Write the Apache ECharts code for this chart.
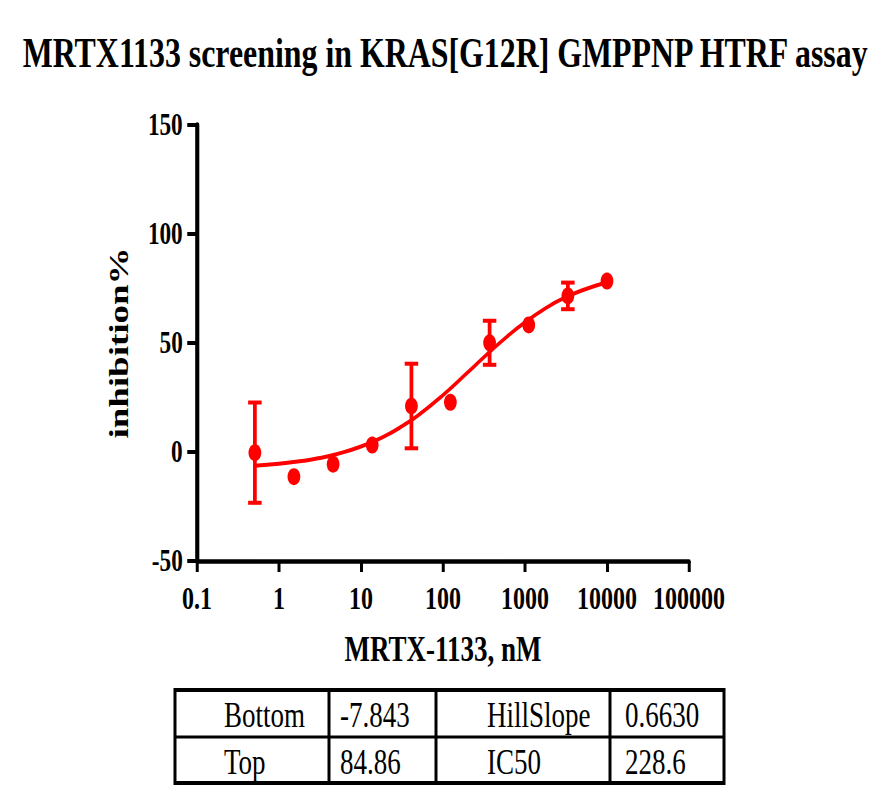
<!DOCTYPE html>
<html>
<head>
<meta charset="utf-8">
<title>MRTX1133 screening in KRAS[G12R] GMPPNP HTRF assay</title>
<script src="https://cdn.jsdelivr.net/npm/echarts@6/dist/echarts.min.js"></script>
<style>
  html, body { margin: 0; padding: 0; overflow: hidden; background: #fff; }
  #wrap { width: 890px; height: 808px; overflow: hidden; }
  /* the reference picture is squeezed sideways, so draw wide and squeeze it */
  #main { width: 1187px; height: 808px; transform: scaleX(0.75); transform-origin: 0 0; }
</style>
</head>
<body>
<div id="wrap"><div id="main"></div></div>
<script>
var SQUEEZE = 0.75;
var RED = '#ff0000';
var FONT = '"Liberation Serif", "Times New Roman", serif';

// measured points (3-fold dilution, nM)
var concNM = [0.508, 1.52, 4.57, 13.7, 41.2, 123, 370, 1111, 3333, 10000];
var inhMean = [-0.3, -11.3, -5.6, 3.2, 21.1, 22.8, 50.1, 58.3, 71.6, 78.4];
var inhErr = [23, 0, 0, 0, 19.4, 0, 10.1, 0, 6.1, 0];

// fitted curve
var fitX = [0.508, 1, 2, 3, 5, 10, 20, 30, 50, 100, 200, 300, 500, 1000, 2000, 3000, 5000, 10000];
var fitY = [-6.3, -5.4, -4.0, -2.9, -1.0, 2.5, 7.5, 11.3, 16.9, 26.1, 36.5, 42.7, 50.3, 59.5, 67.1, 70.6, 74.2, 77.9];

// axis ticks
var xTickLabels = ['0.1', '1', '10', '100', '1000', '10000', '100000'];
var yTickLabels = ['-50', '0', '50', '100', '150'];

// table under the chart
var tableRow1 = ['Bottom', '-7.843', 'HillSlope', '0.6630'];
var tableRow2 = ['Top', '84.86', 'IC50', '228.6'];

// page px -> chart px (horizontal only)
function X(px) { return px / SQUEEZE; }

var chartDom = document.getElementById('main');
var myChart = echarts.init(chartDom, null, { renderer: 'svg' });

var pts = [];
var bars = [];
for (var i = 0; i < concNM.length; i++) {
  pts.push([concNM[i], inhMean[i]]);
  if (inhErr[i] > 0) {
    bars.push([concNM[i], inhMean[i] - inhErr[i], inhMean[i] + inhErr[i]]);
  }
}
var fit = [];
for (var j = 0; j < fitX.length; j++) {
  fit.push([fitX[j], fitY[j]]);
}

// table graphic
var tblLeft = 175, tblRight = 724, tblTop = 690, tblBottom = 783, tblMid = 737;
var colLines = [329, 436, 610];
var textLeft = [224, 340, 487, 625];
var graphics = [
  {
    type: 'rect',
    shape: { x: X(tblLeft), y: tblTop, width: X(tblRight) - X(tblLeft), height: tblBottom - tblTop },
    style: { fill: 'none', stroke: '#000', lineWidth: 4 }
  },
  {
    type: 'line',
    shape: { x1: X(tblLeft), y1: tblMid, x2: X(tblRight), y2: tblMid },
    style: { stroke: '#000', lineWidth: 3 }
  }
];
colLines.forEach(function (c) {
  graphics.push({
    type: 'line',
    shape: { x1: X(c), y1: tblTop, x2: X(c), y2: tblBottom },
    style: { stroke: '#000', lineWidth: 4 }
  });
});
[tableRow1, tableRow2].forEach(function (row, r) {
  row.forEach(function (txt, k) {
    graphics.push({
      type: 'text',
      style: {
        text: txt,
        x: X(textLeft[k]),
        y: r === 0 ? 715 : 762,
        fontFamily: FONT,
        fontSize: 36,
        fill: '#000',
        align: 'left',
        verticalAlign: 'middle'
      }
    });
  });
});

var option = {
  backgroundColor: '#fff',
  animation: false,
  title: {
    text: 'MRTX1133 screening in KRAS[G12R] GMPPNP HTRF assay',
    left: 'center',
    top: 26,
    textStyle: { fontFamily: FONT, fontWeight: 'bold', fontSize: 42.5, color: '#000' }
  },
  grid: {
    left: X(197),
    right: 1187 - X(689),
    top: 125,
    bottom: 808 - 561
  },
  xAxis: {
    type: 'log',
    logBase: 10,
    min: 0.1,
    max: 100000,
    name: 'MRTX-1133, nM',
    nameLocation: 'middle',
    nameGap: 70,
    nameTextStyle: { fontFamily: FONT, fontWeight: 'bold', fontSize: 36, color: '#000' },
    axisLine: { onZero: false, lineStyle: { color: '#000', width: 4.5 } },
    axisTick: { length: 11, lineStyle: { color: '#000', width: 4 } },
    minorTick: { show: false },
    splitLine: { show: false },
    axisLabel: {
      margin: 21,
      fontFamily: FONT,
      fontWeight: 'bold',
      fontSize: 32,
      color: '#000',
      formatter: function (v, idx) { return xTickLabels[idx]; }
    }
  },
  yAxis: {
    type: 'value',
    min: -50,
    max: 150,
    interval: 50,
    name: 'inhibition%',
    nameLocation: 'middle',
    nameRotate: 90,
    nameGap: 86,
    nameTextStyle: { fontFamily: FONT, fontWeight: 'bold', fontSize: 37, color: '#000' },
    axisLine: { show: true, onZero: false, lineStyle: { color: '#000', width: 5.5 } },
    axisTick: { show: true, length: 13, lineStyle: { color: '#000', width: 4 } },
    splitLine: { show: false },
    axisLabel: {
      margin: 19,
      fontFamily: FONT,
      fontWeight: 'bold',
      fontSize: 31,
      color: '#000',
      formatter: function (v, idx) { return yTickLabels[idx]; }
    }
  },
  series: [
    {
      name: 'fit',
      type: 'line',
      data: fit,
      smooth: true,
      showSymbol: false,
      lineStyle: { color: RED, width: 4 },
      z: 2
    },
    {
      name: 'sd',
      type: 'custom',
      data: bars,
      encode: { x: 0, y: [1, 2] },
      renderItem: function (params, api) {
        var x = api.value(0);
        var lo = api.coord([x, api.value(1)]);
        var hi = api.coord([x, api.value(2)]);
        var w = 9;
        return {
          type: 'group',
          children: [
            { type: 'line', shape: { x1: lo[0], y1: lo[1], x2: hi[0], y2: hi[1] }, style: { stroke: RED, lineWidth: 5 } },
            { type: 'line', shape: { x1: lo[0] - w, y1: lo[1], x2: lo[0] + w, y2: lo[1] }, style: { stroke: RED, lineWidth: 4 } },
            { type: 'line', shape: { x1: hi[0] - w, y1: hi[1], x2: hi[0] + w, y2: hi[1] }, style: { stroke: RED, lineWidth: 4 } }
          ]
        };
      },
      z: 3
    },
    {
      name: 'mean',
      type: 'scatter',
      data: pts,
      symbol: 'circle',
      symbolSize: 17,
      itemStyle: { color: RED, opacity: 1 },
      z: 4
    }
  ],
  graphic: graphics
};

option && myChart.setOption(option);
</script>
</body>
</html>
